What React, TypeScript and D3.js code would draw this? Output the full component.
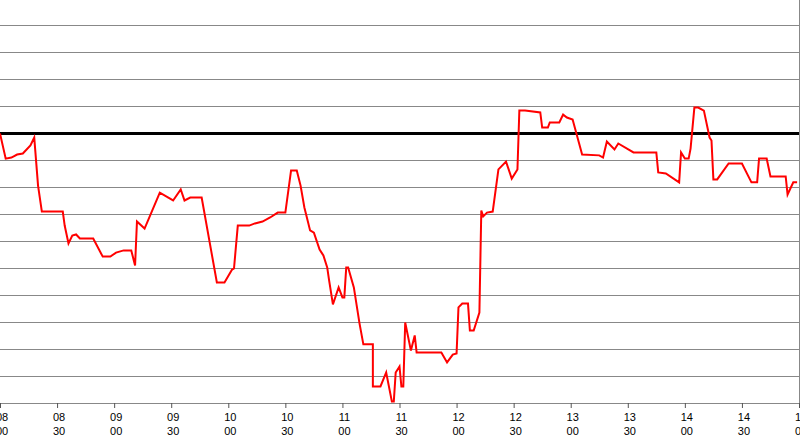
import React, { useEffect, useRef } from 'react';
import * as d3 from 'd3';

// time of day (HH:MM) and level
const times = [
  '08:00', '08:03', '08:06', '08:09', '08:12', '08:16', '08:18', '08:20', '08:22', '08:33',
  '08:34', '08:36', '08:38', '08:40', '08:42', '08:49', '08:54', '08:58', '09:01', '09:05',
  '09:09', '09:11', '09:12', '09:16', '09:24', '09:31', '09:35', '09:37', '09:40', '09:46',
  '09:54', '09:58', '10:02', '10:03', '10:05', '10:11', '10:14', '10:18', '10:22', '10:26',
  '10:30', '10:33', '10:36', '10:38', '10:40', '10:43', '10:45', '10:48', '10:50', '10:52',
  '10:53', '10:55', '10:58', '11:00', '11:01', '11:02', '11:03', '11:06', '11:09', '11:11',
  '11:16', '11:16', '11:20', '11:23', '11:26', '11:27', '11:28', '11:30', '11:31', '11:32',
  '11:33', '11:36', '11:38', '11:39', '11:52', '11:55', '11:58', '12:00', '12:01', '12:03',
  '12:06', '12:07', '12:09', '12:12', '12:13', '12:14', '12:16', '12:19', '12:22', '12:26',
  '12:29', '12:32', '12:33', '12:36', '12:44', '12:45', '12:48', '12:49', '12:54', '12:56',
  '12:58', '13:01', '13:06', '13:15', '13:17', '13:19', '13:23', '13:25', '13:33', '13:45',
  '13:46', '13:50', '13:57', '13:58', '14:00', '14:02', '14:03', '14:05', '14:07', '14:10',
  '14:13', '14:14', '14:15', '14:17', '14:23', '14:30', '14:35', '14:38', '14:39', '14:43',
  '14:45', '14:53', '14:54', '14:57', '14:59',
];

const values = [
  10.0, 9.07, 9.11, 9.22, 9.26, 9.56, 9.85, 8.07, 7.11, 7.11,
  6.59, 5.93, 6.22, 6.26, 6.11, 6.11, 5.44, 5.44, 5.59, 5.67,
  5.67, 5.11, 6.74, 6.48, 7.81, 7.52, 7.93, 7.52, 7.63, 7.63,
  4.48, 4.48, 4.96, 5.0, 6.59, 6.59, 6.67, 6.74, 6.89, 7.07,
  7.07, 8.63, 8.63, 8.07, 7.26, 6.41, 6.33, 5.7, 5.48, 5.04,
  4.56, 3.67, 4.3, 3.93, 3.93, 5.04, 5.04, 4.3, 2.96, 2.19,
  2.19, 0.63, 0.63, 1.15, 0.07, 0.07, 1.15, 1.37, 0.63, 0.63,
  3.0, 1.96, 2.52, 1.89, 1.89, 1.52, 1.81, 1.85, 3.56, 3.7,
  3.7, 2.7, 2.7, 3.37, 7.15, 6.93, 7.07, 7.11, 8.67, 8.96,
  8.33, 8.67, 10.85, 10.85, 10.78, 10.22, 10.22, 10.41, 10.41, 10.7,
  10.59, 10.52, 9.22, 9.19, 9.11, 9.7, 9.41, 9.63, 9.3, 9.3,
  8.56, 8.52, 8.19, 9.3, 9.07, 9.07, 9.44, 10.96, 10.96, 10.85,
  9.85, 9.74, 8.3, 8.3, 8.89, 8.89, 8.19, 8.19, 9.07, 9.07,
  8.41, 8.41, 7.74, 8.19, 8.19,
];

const gridValues = [1, 2, 3, 4, 5, 6, 7, 8, 9, 10, 11, 12, 13, 14];
const referenceLevel = 10;

const tickTimes = [
  '08:00', '08:30', '09:00', '09:30', '10:00', '10:30', '11:00', '11:30',
  '12:00', '12:30', '13:00', '13:30', '14:00', '14:30', '15:00',
];

const App: React.FC = () => {
  const chartRef = useRef<SVGSVGElement | null>(null);

  useEffect(() => {
    const svg = d3.select(chartRef.current);
    svg.selectAll('*').remove();

    const parseTime = d3.timeParse('%H:%M');
    const data = times.map((t, i) => ({ t: parseTime(t) as Date, v: values[i] }));

    const x = d3.scaleTime()
      .domain([parseTime('08:00') as Date, parseTime('15:00') as Date])
      .range([0, 799]);

    const y = d3.scaleLinear()
      .domain([0, 15])
      .range([403.5, -1.5]);

    svg.append('rect')
      .attr('width', 800)
      .attr('height', 438)
      .attr('fill', '#fff');

    // horizontal grid
    svg.append('g')
      .selectAll('line')
      .data(gridValues.filter(d => d !== referenceLevel))
      .join('line')
      .attr('x1', 0)
      .attr('x2', 799)
      .attr('y1', d => y(d))
      .attr('y2', d => y(d))
      .attr('stroke', '#888')
      .attr('stroke-width', 1);

    // right border
    svg.append('line')
      .attr('x1', 799.5)
      .attr('x2', 799.5)
      .attr('y1', 0)
      .attr('y2', y(0))
      .attr('stroke', '#888');

    // x axis
    const tickDates = tickTimes.map(t => parseTime(t) as Date);
    const axis = svg.append('g')
      .attr('transform', `translate(0,${y(0) - 0.5})`)
      .call(
        d3.axisBottom(x)
          .tickValues(tickDates)
          .tickSize(5)
          .tickSizeOuter(0)
          .tickFormat(() => '')
      );
    axis.select('.domain').attr('stroke', '#888');
    axis.selectAll('.tick line').attr('stroke', '#555');
    axis.selectAll('.tick text').remove();

    // two-line labels: hour above minutes
    const fmtH = d3.timeFormat('%H');
    const fmtM = d3.timeFormat('%M');
    const labels = svg.append('g')
      .attr('font-family', '"Liberation Sans", Arial, sans-serif')
      .attr('font-size', 11)
      .attr('fill', '#000')
      .attr('text-anchor', 'middle');
    tickDates.forEach(d => {
      const cx = x(d) + 2;
      const txt = labels.append('text').attr('x', cx);
      txt.append('tspan').attr('x', cx).attr('y', 421).text(fmtH(d));
      txt.append('tspan').attr('x', cx).attr('y', 435).text(fmtM(d));
    });

    // reference level
    svg.append('line')
      .attr('x1', 0)
      .attr('x2', 799)
      .attr('y1', y(referenceLevel))
      .attr('y2', y(referenceLevel))
      .attr('stroke', '#000')
      .attr('stroke-width', 3);

    const line = d3.line<{ t: Date; v: number }>()
      .x(d => x(d.t))
      .y(d => y(d.v));

    svg.append('path')
      .datum(data)
      .attr('fill', 'none')
      .attr('stroke', '#ff0000')
      .attr('stroke-width', 2)
      .attr('stroke-linejoin', 'miter')
      .attr('d', line);
  }, []);

  return (
    <svg
      ref={chartRef}
      width={800}
      height={438}
      style={{ position: 'absolute', left: 0, top: 0 }}
    ></svg>
  );
};

export default App;
